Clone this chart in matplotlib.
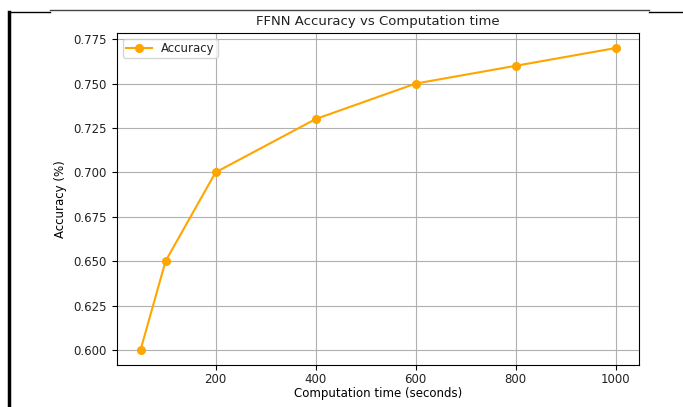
import matplotlib
matplotlib.use("Agg")
import matplotlib.pyplot as plt
from matplotlib.lines import Line2D

# computation time (seconds) vs accuracy
comp_time = [50, 100, 200, 400, 600, 800, 1000]
accuracy = [0.60, 0.65, 0.70, 0.73, 0.75, 0.76, 0.77]

plt.rcParams["font.size"] = 8.5
plt.rcParams["text.color"] = "#222222"
plt.rcParams["xtick.labelcolor"] = "#222222"
plt.rcParams["ytick.labelcolor"] = "#222222"

fig = plt.figure(figsize=(6.83, 4.07), dpi=100)
ax = fig.add_axes([0.171, 0.103, 0.765, 0.816])

ax.plot(comp_time, accuracy, color="orange", marker="o", markersize=5.5, label="Accuracy")
ax.grid(True)
ax.legend(loc="upper left", borderpad=0.25, handlelength=2.2)
ax.set_title("FFNN Accuracy vs Computation time", fontsize=9.5)
ax.set_xlabel("Computation time (seconds)", labelpad=1)
ax.set_ylabel("Accuracy (%)", labelpad=5)
ax.set_xticks([200, 400, 600, 800, 1000])
ax.tick_params(axis="x", pad=2)

# borders of the surrounding document table
fig.add_artist(Line2D([9 / 683, 9 / 683], [0, 1 - 12 / 407], color="black", lw=2.5))
fig.add_artist(Line2D([9 / 683, 50 / 683], [1 - 12 / 407, 1 - 12 / 407], color="black", lw=1))
fig.add_artist(Line2D([50 / 683, 649 / 683], [1 - 9.5 / 407, 1 - 9.5 / 407], color="#444444", lw=1))
fig.add_artist(Line2D([649 / 683, 1], [1 - 12 / 407, 1 - 12 / 407], color="black", lw=1))

fig.savefig("out.png", dpi=100)
